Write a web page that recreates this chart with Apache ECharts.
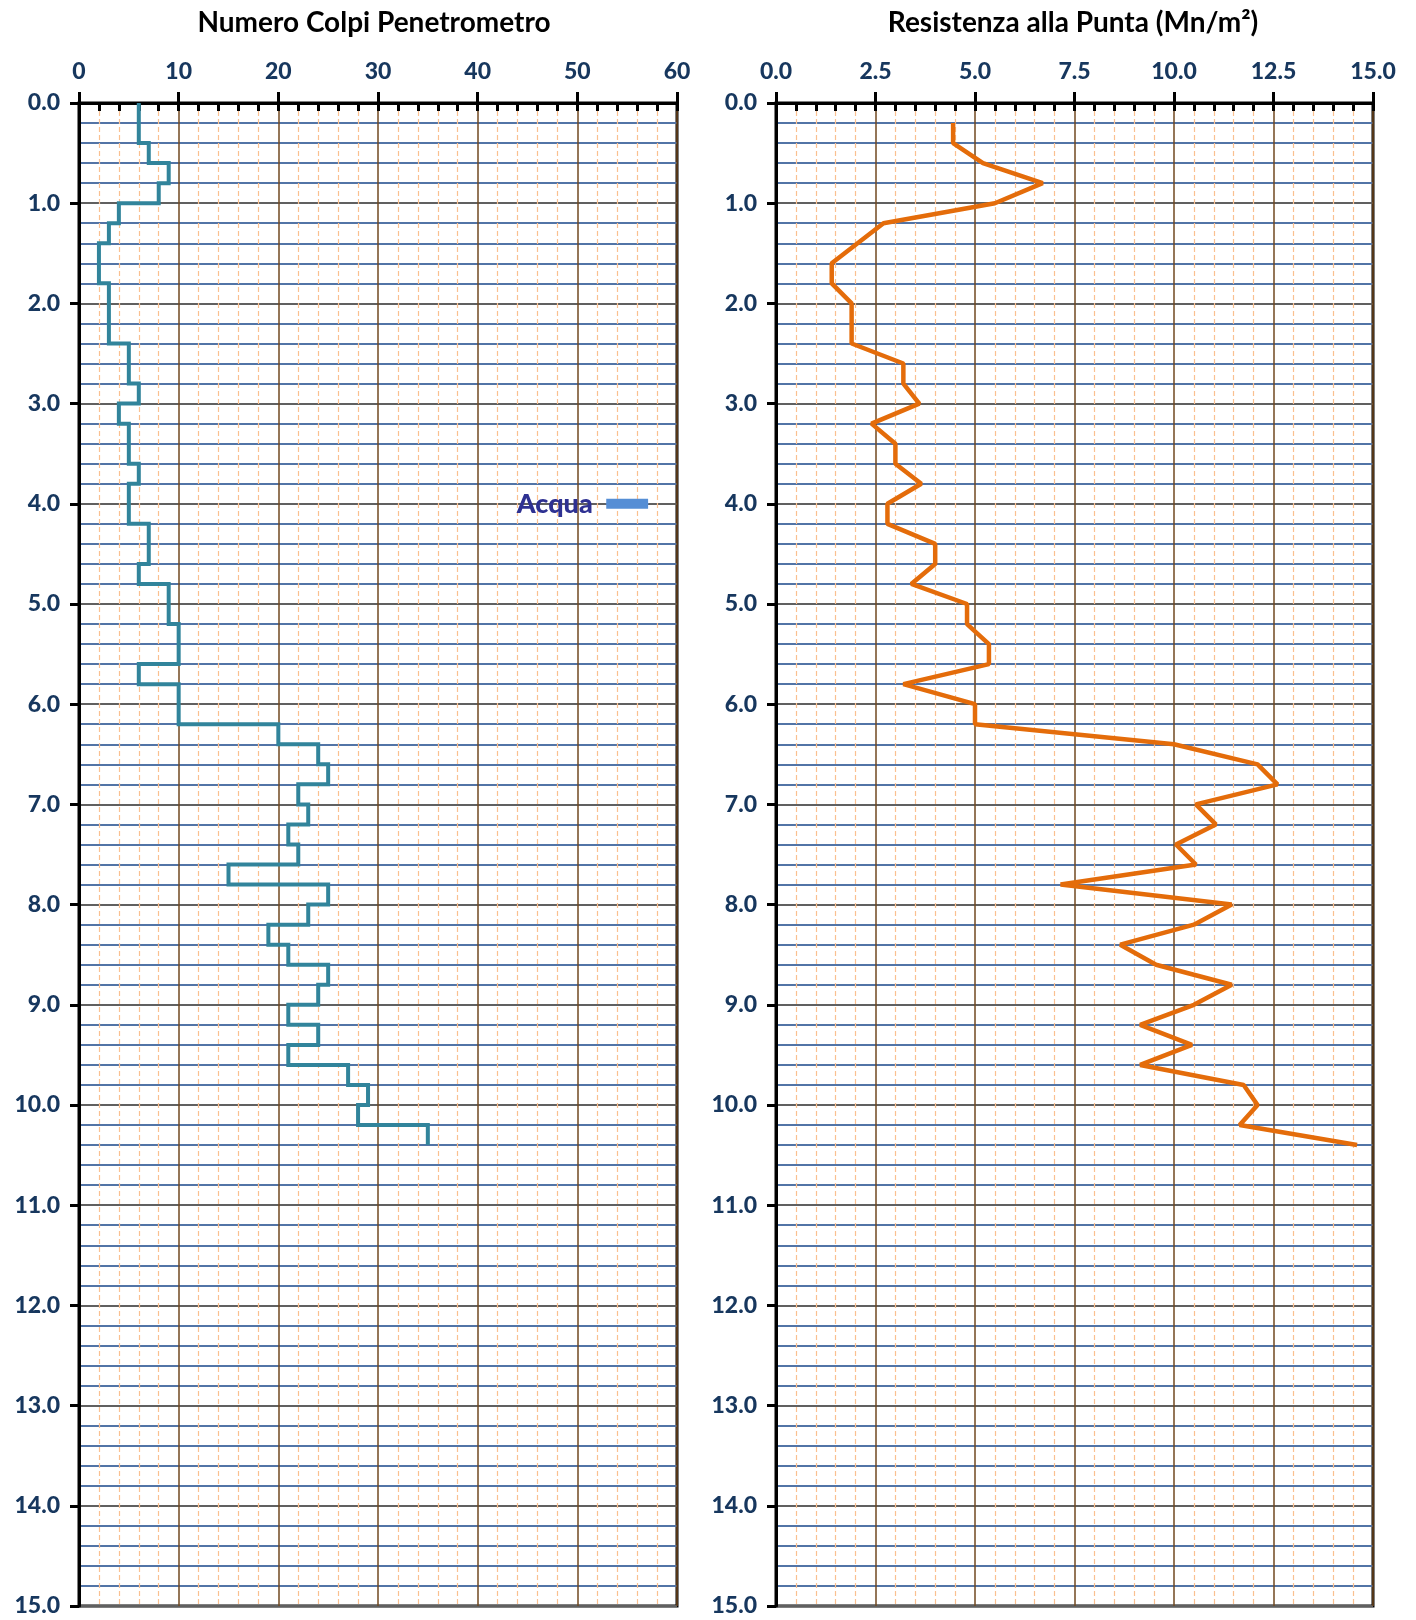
<!DOCTYPE html>
<html>
<head>
<meta charset="utf-8">
<script src="https://cdn.jsdelivr.net/npm/echarts@6/dist/echarts.min.js"></script>
<style>html,body{margin:0;padding:0;background:#fff}#c{width:1416px;height:1620px}</style>
</head>
<body>
<div id="c"></div>
<script>
// Depth boundaries (m) for the penetrometer blow-count steps
const colpiDepths = [0.0,0.2,0.4,0.6,0.8,1.0,1.2,1.4,1.6,1.8,2.0,2.2,2.4,2.6,2.8,3.0,3.2,3.4,3.6,3.8,4.0,4.2,4.4,4.6,4.8,5.0,5.2,5.4,5.6,5.8,6.0,6.2,6.4,6.6,6.8,7.0,7.2,7.4,7.6,7.8,8.0,8.2,8.4,8.6,8.8,9.0,9.2,9.4,9.6,9.8,10.0,10.2,10.4];
// Blow count per 0.2 m interval
const colpi = [6,6,7,9,8,4,3,2,2,3,3,3,5,5,6,4,5,5,6,5,5,7,7,6,9,9,10,10,6,10,10,20,24,25,22,23,21,22,15,25,23,19,21,25,24,21,24,21,27,29,28,35];
// Tip resistance depths and values (Mn/m2)
const resDepths = [0.2,0.4,0.6,0.8,1.0,1.2,1.4,1.6,1.8,2.0,2.2,2.4,2.6,2.8,3.0,3.2,3.4,3.6,3.8,4.0,4.2,4.4,4.6,4.8,5.0,5.2,5.4,5.6,5.8,6.0,6.2,6.4,6.6,6.8,7.0,7.2,7.4,7.6,7.8,8.0,8.2,8.4,8.6,8.8,9.0,9.2,9.4,9.6,9.8,10.0,10.2,10.4];
const resistenza = [4.45,4.45,5.2,6.7,5.5,2.7,2.05,1.4,1.4,1.9,1.9,1.9,3.2,3.2,3.6,2.4,3.0,3.0,3.65,2.8,2.8,4.0,4.0,3.4,4.8,4.8,5.35,5.35,3.2,5.0,5.0,10.0,12.1,12.6,10.55,11.05,10.05,10.55,7.15,11.45,10.5,8.65,9.55,11.45,10.5,9.15,10.45,9.15,11.75,12.1,11.65,14.6];
// Water table marker
const acquaLabel = 'Acqua';
const acquaDepth = 4.0;
const acquaX = [52.9, 57.1];
// Titles
const titleLeft = 'Numero Colpi Penetrometro';
const titleRight = 'Resistenza alla Punta (Mn/m²)';

const stepData = [];
for (let i = 0; i < colpi.length; i++) {
  stepData.push([colpi[i], colpiDepths[i]]);
  stepData.push([colpi[i], colpiDepths[i + 1]]);
}
const resData = resistenza.map((v, i) => [v, resDepths[i]]);

const FONT = 'Lato';
const LABEL_COLOR = '#17375E';

function yAxisDef(gridIndex) {
  return {
    type: 'value', gridIndex, inverse: true, min: 0, max: 15, interval: 1,
    axisLine: { show: true, onZero: false, lineStyle: { color: '#000', width: 3 } },
    axisTick: { show: true, length: 9, lineStyle: { color: '#000', width: 3 } },
    axisLabel: { show: true, margin: 19, fontFamily: FONT, fontWeight: 900, fontSize: 23, color: LABEL_COLOR,
      formatter: v => v.toFixed(1) },
    splitLine: { show: true, lineStyle: { color: '#606060', width: 2 } },
    minorTick: { show: false, splitNumber: 5 },
    minorSplitLine: { show: true, lineStyle: { color: '#5274A6', width: 2 } }
  };
}
function xAxisMain(gridIndex, max, interval, fmt) {
  return {
    type: 'value', gridIndex, position: 'top', min: 0, max, interval,
    axisLine: { show: true, onZero: false, lineStyle: { color: '#000', width: 3 } },
    axisTick: { show: true, length: 11, lineStyle: { color: '#000', width: 3 } },
    axisLabel: { show: true, margin: 20, fontFamily: FONT, fontWeight: 900, fontSize: 23, color: LABEL_COLOR, formatter: fmt },
    splitLine: { show: true, lineStyle: { color: '#704820', width: 1.5 } },
    minorTick: { show: false, splitNumber: 5 },
    minorSplitLine: { show: true, lineStyle: { color: '#FAC090', width: 1.2, type: [5, 3] } }
  };
}
function xAxisMinor(gridIndex, max, interval) {
  return {
    type: 'value', gridIndex, position: 'top', min: 0, max, interval,
    axisLine: { show: false },
    axisTick: { show: true, inside: true, length: 8, lineStyle: { color: '#000', width: 3 } },
    axisLabel: { show: false },
    splitLine: { show: false }
  };
}

const option = {
  backgroundColor: '#fff',
  animation: false,
  title: [
    { text: titleLeft, left: 369, top: 4, textAlign: 'center',
      textStyle: { fontFamily: FONT, fontWeight: 'bold', fontSize: 28, color: '#000' } },
    { text: titleRight, left: 1068, top: 4, textAlign: 'center',
      textStyle: { fontFamily: FONT, fontWeight: 'bold', fontSize: 28, color: '#000' } }
  ],
  grid: [
    { left: 79, top: 103, width: 598, height: 1503, show: true, borderColor: '#000', borderWidth: 3, backgroundColor: 'transparent' },
    { left: 776, top: 103, width: 597, height: 1503, show: true, borderColor: '#000', borderWidth: 3, backgroundColor: 'transparent' }
  ],
  xAxis: [
    xAxisMain(0, 60, 10, v => String(v)),
    xAxisMain(1, 15, 2.5, v => v.toFixed(1)),
    xAxisMinor(0, 60, 2),
    xAxisMinor(1, 15, 0.5)
  ],
  yAxis: [yAxisDef(0), yAxisDef(1)],
  series: [
    { name: 'Colpi', type: 'line', xAxisIndex: 0, yAxisIndex: 0, data: stepData,
      showSymbol: false, symbol: 'none', lineStyle: { color: '#31849B', width: 4, join: 'miter' }, z: 5 },
    { name: 'Resistenza', type: 'line', xAxisIndex: 1, yAxisIndex: 1, data: resData,
      showSymbol: false, symbol: 'none', lineStyle: { color: '#E46C0A', width: 4.5 }, z: 5 },
    { name: acquaLabel, type: 'line', xAxisIndex: 0, yAxisIndex: 0,
      data: [
        { value: [acquaX[0], acquaDepth], label: { show: true, position: 'left', distance: 13, formatter: acquaLabel,
          fontFamily: FONT, fontWeight: 900, fontSize: 27, color: '#2E3192' } },
        { value: [acquaX[1], acquaDepth] }
      ],
      showSymbol: true, symbol: 'rect', symbolSize: [1, 1], itemStyle: { color: '#558ED5' },
      lineStyle: { color: '#558ED5', width: 10 }, z: 6 }
  ]
};
const chart = echarts.init(document.getElementById('c'), null, { renderer: 'canvas' });
chart.setOption(option);
</script>
</body>
</html>
